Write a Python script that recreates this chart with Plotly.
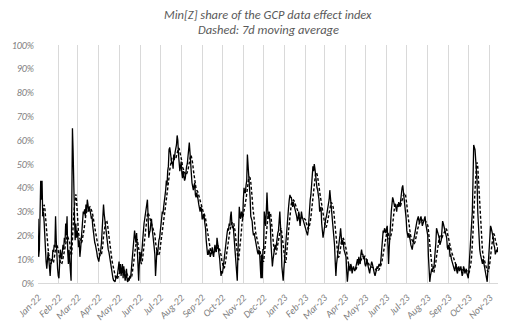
import pandas as pd
import plotly.graph_objects as go

# Daily Min[Z] share of the GCP data effect index, in percent, starting 1 Jan 2022
start_date = "2022-01-01"
share_pct = [
    # Jan-22
    27, 11, 14, 25, 43, 35, 43, 28, 30, 26, 18, 16, 9, 6, 12, 13, 10, 4, 3, 8,
    10, 9, 14, 13, 16, 15, 28, 18, 10, 6, 3,
    # Feb-22
    2, 8, 14, 12, 10, 13, 16, 14, 19, 17, 25, 20, 28, 13, 8, 14, 11, 5, 1, 35,
    65, 55, 35, 28, 18, 25, 19, 22,
    # Mar-22
    20, 15, 18, 11, 14, 19, 24, 28, 30, 29, 31, 28, 33, 30, 35, 33, 30, 32, 31, 29,
    27, 28, 24, 21, 19, 17, 16, 15, 13, 11, 10,
    # Apr-22
    9, 11, 12, 14, 17, 22, 28, 33, 29, 26, 24, 22, 20, 17, 14, 13, 11, 9, 6, 5,
    3, 2, 1, 1, 0.5, 2, 3, 2, 5, 7,
    # May-22
    9, 4, 8, 3, 5, 8, 2, 7, 4, 1, 3, 6, 1, 0.5, 2, 1, 3, 2, 5, 8,
    12, 16, 20, 22, 19, 17, 21, 12, 2, 1, 8,
    # Jun-22
    13, 9, 11, 14, 18, 23, 25, 27, 29, 30, 33, 35, 28, 19, 21, 22, 25, 27, 23, 21,
    19, 15, 12, 3, 8, 14, 12, 16, 18, 19,
    # Jul-22
    21, 25, 27, 30, 29, 32, 34, 36, 39, 43, 41, 47, 49, 56, 57, 55, 53, 50, 51, 48,
    54, 52, 55, 56, 58, 62, 60, 54, 50, 47, 49,
    # Aug-22
    51, 46, 44, 47, 45, 43, 44, 48, 49, 50, 53, 58, 59, 55, 52, 46, 42, 40, 39, 41,
    42, 37, 36, 38, 37, 35, 33, 30, 30, 32, 31,
    # Sep-22
    27, 27, 29, 28, 25, 23, 18, 13, 12, 12, 14, 13, 11, 12, 14, 15, 12, 11, 14, 16,
    14, 13, 19, 17, 15, 12, 10, 6, 3, 5,
    # Oct-22
    4, 6, 9, 12, 14, 17, 20, 21, 23, 22, 25, 24, 28, 30, 25, 23, 24, 20, 16, 11,
    7, 3, 1, 12, 19, 32, 28, 27, 30, 28, 27,
    # Nov-22
    35, 40, 38, 38, 41, 43, 54, 50, 45, 40, 36, 28, 27, 26, 22, 20, 21, 19, 17, 16,
    15, 13, 12, 14, 13, 7, 2, 12, 2, 14,
    # Dec-22
    14, 30, 26, 24, 30, 38, 31, 27, 30, 28, 24, 16, 10, 7, 10, 12, 15, 16, 14, 17,
    19, 21, 22, 26, 30, 24, 19, 7, 3, 1, 6,
    # Jan-23
    10, 15, 19, 24, 26, 30, 32, 35, 37, 36, 36, 34, 32, 34, 33, 31, 31, 30, 28, 26,
    27, 30, 28, 24, 27, 30, 28, 27, 27, 26, 24,
    # Feb-23
    24, 22, 21, 20, 22, 28, 31, 35, 37, 41, 44, 49, 47, 50, 48, 44, 43, 40, 39, 37,
    35, 30, 31, 32, 25, 22, 19, 21,
    # Mar-23
    24, 25, 27, 28, 30, 31, 32, 35, 39, 36, 34, 28, 27, 24, 20, 16, 9, 3, 8, 10,
    14, 16, 18, 20, 23, 19, 16, 18, 17, 14, 13,
    # Apr-23
    12, 11, 5, 0.5, 4, 8, 6, 5, 8, 7, 4, 5, 7, 6, 5, 6, 8, 9, 10, 8,
    11, 9, 8, 12, 14, 12, 12, 10, 11, 8,
    # May-23
    7, 8, 10, 8, 7, 5, 4, 6, 7, 9, 8, 6, 5, 4, 3, 4, 5, 7, 6, 7,
    8, 7, 8, 11, 14, 18, 22, 21, 23, 22, 21,
    # Jun-23
    23, 24, 16, 8, 15, 22, 27, 30, 33, 36, 35, 34, 32, 33, 31, 30, 33, 32, 34, 33,
    32, 35, 39, 40, 41, 38, 37, 34, 32, 27,
    # Jul-23
    22, 20, 19, 21, 20, 18, 16, 15, 14, 16, 18, 19, 21, 23, 24, 26, 27, 28, 26, 25,
    27, 28, 26, 24, 25, 26, 27, 28, 25, 23, 21,
    # Aug-23
    20, 11, 4, 0.5, 3, 4, 6, 5, 7, 6, 9, 11, 17, 23, 22, 21, 20, 19, 16, 17,
    18, 22, 26, 25, 24, 22, 21, 20, 19, 15, 14,
    # Sep-23
    16, 15, 11, 12, 10, 9, 8, 7, 6, 5, 7, 8, 5, 4, 6, 7, 5, 6, 7, 5,
    3, 4, 7, 6, 4, 5, 6, 4, 3, 2,
    # Oct-23
    6, 11, 15, 19, 25, 30, 43, 58, 57, 56, 51, 47, 43, 30, 23, 18, 14, 12, 11, 9,
    8, 10, 8, 7, 5, 4, 2, 0.5, 6, 11, 16,
    # Nov-23
    20, 24, 23, 22, 20, 19, 16, 15, 12, 13, 14, 13, 15,
]
assert len(share_pct) == 682, len(share_pct)

title_lines = ["Min[Z] share of the GCP data effect index", "Dashed: 7d moving average"]
y_ticks = list(range(0, 101, 10))

dates = pd.date_range(start_date, periods=len(share_pct), freq="D")
series = pd.Series(share_pct, index=dates)
moving_avg = series.rolling(7).mean()

month_starts = pd.date_range(start_date, dates[-1], freq="MS")
month_labels = [f"<i>{d.strftime('%b-%y')}</i>" for d in month_starts]
y_labels = [f"<i>{v}%</i>" for v in y_ticks]

FONT = "Carlito, Lato, 'Liberation Sans', sans-serif"
GRID = "#d9d9d9"
TICK_COLOR = "#7f7f7f"

fig = go.Figure()
fig.add_trace(go.Scatter(
    x=dates, y=series.values, mode="lines",
    line=dict(color="#000000", width=1.3),
    hoverinfo="skip", showlegend=False,
))
fig.add_trace(go.Scatter(
    x=dates, y=moving_avg.values, mode="lines",
    line=dict(color="#000000", width=1.4, dash="3px,2px"),
    hoverinfo="skip", showlegend=False,
))

# two-line italic heading above the plot area
for text, ypos in zip(title_lines, [1.127, 1.067]):
    fig.add_annotation(
        text=f"<i>{text}</i>", xref="paper", yref="paper",
        x=0.5, y=ypos, xanchor="center", yanchor="middle",
        showarrow=False,
        font=dict(family=FONT, size=12.5, color="#595959"),
    )

fig.update_layout(
    width=514, height=335,
    margin=dict(l=36, r=16, t=45, b=41),
    paper_bgcolor="white", plot_bgcolor="white",
    font=dict(family=FONT, color=TICK_COLOR),
)
fig.update_xaxes(
    type="date",
    range=[dates[0], dates[-1]],
    tickvals=month_starts, ticktext=month_labels,
    tickangle=-45, ticklabelstandoff=4,
    tickfont=dict(family=FONT, size=10, color=TICK_COLOR),
    showgrid=True, gridcolor=GRID, gridwidth=1,
    showline=True, linecolor=GRID, linewidth=1,
    ticks="", zeroline=False,
)
fig.update_yaxes(
    range=[0, 100], tickvals=y_ticks, ticktext=y_labels,
    ticklabelstandoff=3,
    tickfont=dict(family=FONT, size=10, color=TICK_COLOR),
    showgrid=False, zeroline=False, showline=False, ticks="",
)

fig.write_html("out.html")
